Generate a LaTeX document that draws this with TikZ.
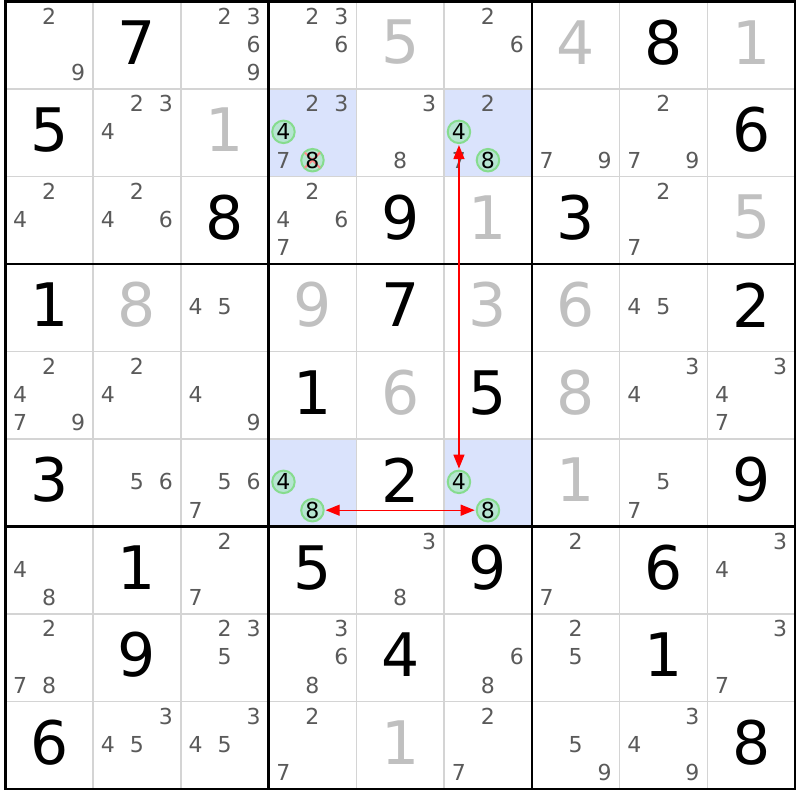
\documentclass[tikz,border=0pt]{standalone}
\usepackage{fontspec}
\setmainfont{DejaVu Sans}
\usetikzlibrary{arrows.meta}
\definecolor{candgray}{HTML}{5A5A5A}
\definecolor{solvedgray}{HTML}{C0C0C0}
\definecolor{thingray}{HTML}{D4D4D4}
\definecolor{hlblue}{HTML}{DAE3FC}
\definecolor{ringgreen}{HTML}{86DC8E}
\definecolor{ringfill}{HTML}{B6E5D2}
\definecolor{xred}{HTML}{FF8C8C}
\tikzset{
  cand/.style={inner sep=0pt, text=candgray, font=\fontsize{22}{24}\selectfont},
  candblk/.style={inner sep=0pt, text=black, font=\fontsize{22}{24}\selectfont},
  given/.style={inner sep=0pt, text=black, font=\fontsize{60}{62}\selectfont},
  solved/.style={inner sep=0pt, text=solvedgray, font=\fontsize{60}{62}\selectfont},
  thinline/.style={draw=thingray, line width=1.6pt},
  thickline/.style={draw=black, line width=2.6pt},
  circ/.style={circle, minimum size=22.5pt, inner sep=0pt, draw=ringgreen, fill=ringfill, line width=2pt},
  xline/.style={draw=xred, line width=2pt, shorten >=1.5pt, shorten <=1.5pt},
  chain/.style={draw=red, line width=1.4pt, {Triangle[length=14pt,width=11pt]}-{Triangle[length=14pt,width=11pt]}, shorten >=1pt, shorten <=1pt}
}
\def\gx{5.3}\def\gy{1.3}\def\sx{87.75}\def\sy{87.5}
\newcommand\candpos[3]{%
  \pgfmathsetmacro\px{\gx+\sx*(#2-1)+43.9+29*(mod(#3-1,3)-1)}%
  \pgfmathsetmacro\py{\gy+\sy*(#1-1)+43.05+28.35*(floor((#3-1)/3)-1)}%
}
\newcommand\cellcenter[2]{%
  \pgfmathsetmacro\px{\gx+\sx*(#2-1)+43.9}%
  \pgfmathsetmacro\py{\gy+\sy*(#1-1)+43.75-2.5}%
}
\begin{document}
\begin{tikzpicture}[x=1pt,y=-1pt]
\useasboundingbox (0,0) rectangle (800,800);
\fill[white] (0,0) rectangle (800,800);
% highlighted cells
\foreach \r/\c in {2/4,2/6,6/4,6/6}
  \fill[hlblue] ({\gx+\sx*(\c-1)},{\gy+\sy*(\r-1)}) rectangle ++(\sx,\sy);
% thin grid lines
\foreach \i in {1,2,4,5,7,8} {
  \draw[thinline] ({\gx+\sx*\i},\gy) -- ++(0,{9*\sy});
  \draw[thinline] (\gx,{\gy+\sy*\i}) -- ++({9*\sx},0);
}
% thick grid lines
\foreach \i in {0,3,6,9} {
  \draw[thickline] ({\gx+\sx*\i},{\gy-1.3}) -- ++(0,{9*\sy+2.6});
  \draw[thickline] ({\gx-1.3},{\gy+\sy*\i}) -- ++({9*\sx+2.6},0);
}
% givens
\foreach \r/\c/\v in {1/2/7,1/8/8,2/1/5,2/9/6,3/3/8,3/5/9,3/7/3,4/1/1,4/5/7,4/9/2,5/4/1,5/6/5,6/1/3,6/5/2,6/9/9,7/2/1,7/4/5,7/6/9,7/8/6,8/2/9,8/5/4,8/8/1,9/1/6,9/9/8} {
  \cellcenter{\r}{\c}
  \node[given] (g-\r-\c) at (\px,\py) {\v};
}
% solved
\foreach \r/\c/\v in {1/5/5,1/7/4,1/9/1,2/3/1,3/6/1,3/9/5,4/2/8,4/4/9,4/6/3,4/7/6,5/5/6,5/7/8,6/7/1,9/5/1} {
  \cellcenter{\r}{\c}
  \node[solved] (s-\r-\c) at (\px,\py) {\v};
}
% candidates
\foreach \r/\c/\ds in {1/1/{2,9},1/3/{2,3,6,9},1/4/{2,3,6},1/6/{2,6},
  2/2/{2,3,4},2/4/{2,3,7},2/5/{3,8},2/6/{2,7},2/7/{7,9},2/8/{2,7,9},
  3/1/{2,4},3/2/{2,4,6},3/4/{2,4,6,7},3/8/{2,7},
  4/3/{4,5},4/8/{4,5},
  5/1/{2,4,7,9},5/2/{2,4},5/3/{4,9},5/8/{3,4},5/9/{3,4,7},
  6/2/{5,6},6/3/{5,6,7},6/8/{5,7},
  7/1/{4,8},7/3/{2,7},7/5/{3,8},7/7/{2,7},7/9/{3,4},
  8/1/{2,7,8},8/3/{2,3,5},8/4/{3,6,8},8/6/{6,8},8/7/{2,5},8/9/{3,7},
  9/2/{3,4,5},9/3/{3,4,5},9/4/{2,7},9/6/{2,7},9/7/{5,9},9/8/{3,4,9}} {
  \foreach \cd in \ds {
    \candpos{\r}{\c}{\cd}
    \node[cand] (k-\r-\c-\cd) at (\px,\py) {\cd};
  }
}
% circled candidates
\foreach \r/\c/\cd in {2/4/4,2/4/8,2/6/4,2/6/8,6/4/4,6/4/8,6/6/4,6/6/8} {
  \candpos{\r}{\c}{\cd}
  \node[circ] (h-\r-\c-\cd) at (\px,\py) {};
}
\draw[xline] (h-2-4-8.north west) -- (h-2-4-8.south east);
\draw[xline] (h-2-4-8.north east) -- (h-2-4-8.south west);
\foreach \r/\c/\cd in {2/4/4,2/4/8,2/6/4,2/6/8,6/4/4,6/4/8,6/6/4,6/6/8} {
  \node[candblk] (t-\r-\c-\cd) at (h-\r-\c-\cd) {\cd};
}
% chains
\draw[chain] (h-6-6-4) -- (h-2-6-4);
\draw[chain] (h-6-4-8) -- (h-6-6-8);
\end{tikzpicture}
\end{document}
